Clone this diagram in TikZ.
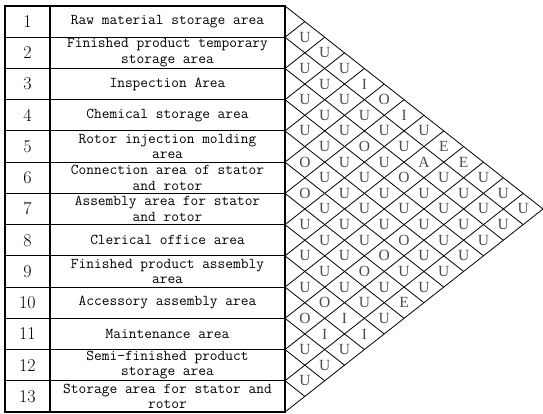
\documentclass[tikz,border=0pt]{standalone}
\usepackage{fontspec}
\newfontfamily\relfont{Liberation Serif}
\begin{document}
\begin{tikzpicture}[x=1pt,y=-1pt]
\def\h{31.2308}
\def\w{19.8462}
\tikzset{
 gridline/.style={line width=0.8pt},
 frame/.style={line width=1.1pt},
 rowline/.style={line width=0.9pt},
 numtext/.style={font=\fontsize{18}{18}\selectfont, inner sep=0pt},
 areatext/.style={font=\ttfamily\fontsize{15}{15.5}\selectfont, align=center, inner sep=0pt},
 reltext/.style={font=\relfont\fontsize{15.5}{15.5}\selectfont, text=black!70, inner sep=0pt}
}
\useasboundingbox (0,0) rectangle (543,414);
% table frame
\draw[frame] (5,6) rectangle (285,412);
\draw[frame] (50,6) -- (50,412);
\foreach \k in {1,...,12}{
  \draw[rowline] (5,{6+\k*\h}) -- (285,{6+\k*\h});
}
% numbers
\foreach \k in {1,...,13}{
  \node[numtext] (n\k) at (27.5,{6+(\k-0.5)*\h}) {\k};
}
% area names
\node[areatext] (a1)  at (167.5,{6+0.5*\h})  {Raw material storage area};
\node[areatext] (a2)  at (167.5,{6+1.5*\h})  {Finished product temporary\\storage area};
\node[areatext] (a3)  at (167.5,{6+2.5*\h})  {Inspection Area};
\node[areatext] (a4)  at (167.5,{6+3.5*\h})  {Chemical storage area};
\node[areatext] (a5)  at (167.5,{6+4.5*\h})  {Rotor injection molding\\area};
\node[areatext] (a6)  at (167.5,{6+5.5*\h})  {Connection area of stator\\and rotor};
\node[areatext] (a7)  at (167.5,{6+6.5*\h})  {Assembly area for stator\\and rotor};
\node[areatext] (a8)  at (167.5,{6+7.5*\h})  {Clerical office area};
\node[areatext] (a9)  at (167.5,{6+8.5*\h})  {Finished product assembly\\area};
\node[areatext] (a10) at (167.5,{6+9.5*\h})  {Accessory assembly area};
\node[areatext] (a11) at (167.5,{6+10.5*\h}) {Maintenance area};
\node[areatext] (a12) at (167.5,{6+11.5*\h}) {Semi-finished product\\storage area};
\node[areatext] (a13) at (167.5,{6+12.5*\h}) {Storage area for stator and\\rotor};
% diamond grid
\foreach \k in {0,...,12}{
  \draw[gridline] (285,{6+\k*\h}) -- ++({(13-\k)*\w},{(13-\k)*\h/2});
}
\foreach \k in {1,...,13}{
  \draw[gridline] (285,{6+\k*\h}) -- ++({\k*\w},{-\k*\h/2});
}
% relationship letters
\foreach \i/\row in {
  1/{U,U,U,I,O,I,U,E,E,U,U,U},
  2/{U,U,U,U,U,U,A,U,U,U,U},
  3/{U,U,U,O,U,O,U,U,U,U},
  4/{U,U,U,U,U,U,U,U,U},
  5/{O,U,U,U,U,O,U,U},
  6/{O,U,U,U,O,U,U},
  7/{U,U,U,O,U,E},
  8/{U,U,U,U,U},
  9/{U,O,I,I},
  10/{O,I,U},
  11/{U,U},
  12/{U}}{
  \foreach \c [count=\d] in \row {
    \pgfmathsetmacro\xx{285+\d*\w}
    \pgfmathsetmacro\yy{6+(2*\i+\d-1)*\h/2}
    \node[reltext] (r\i-\d) at (\xx,\yy) {\c};
  }
}
\end{tikzpicture}
\end{document}
